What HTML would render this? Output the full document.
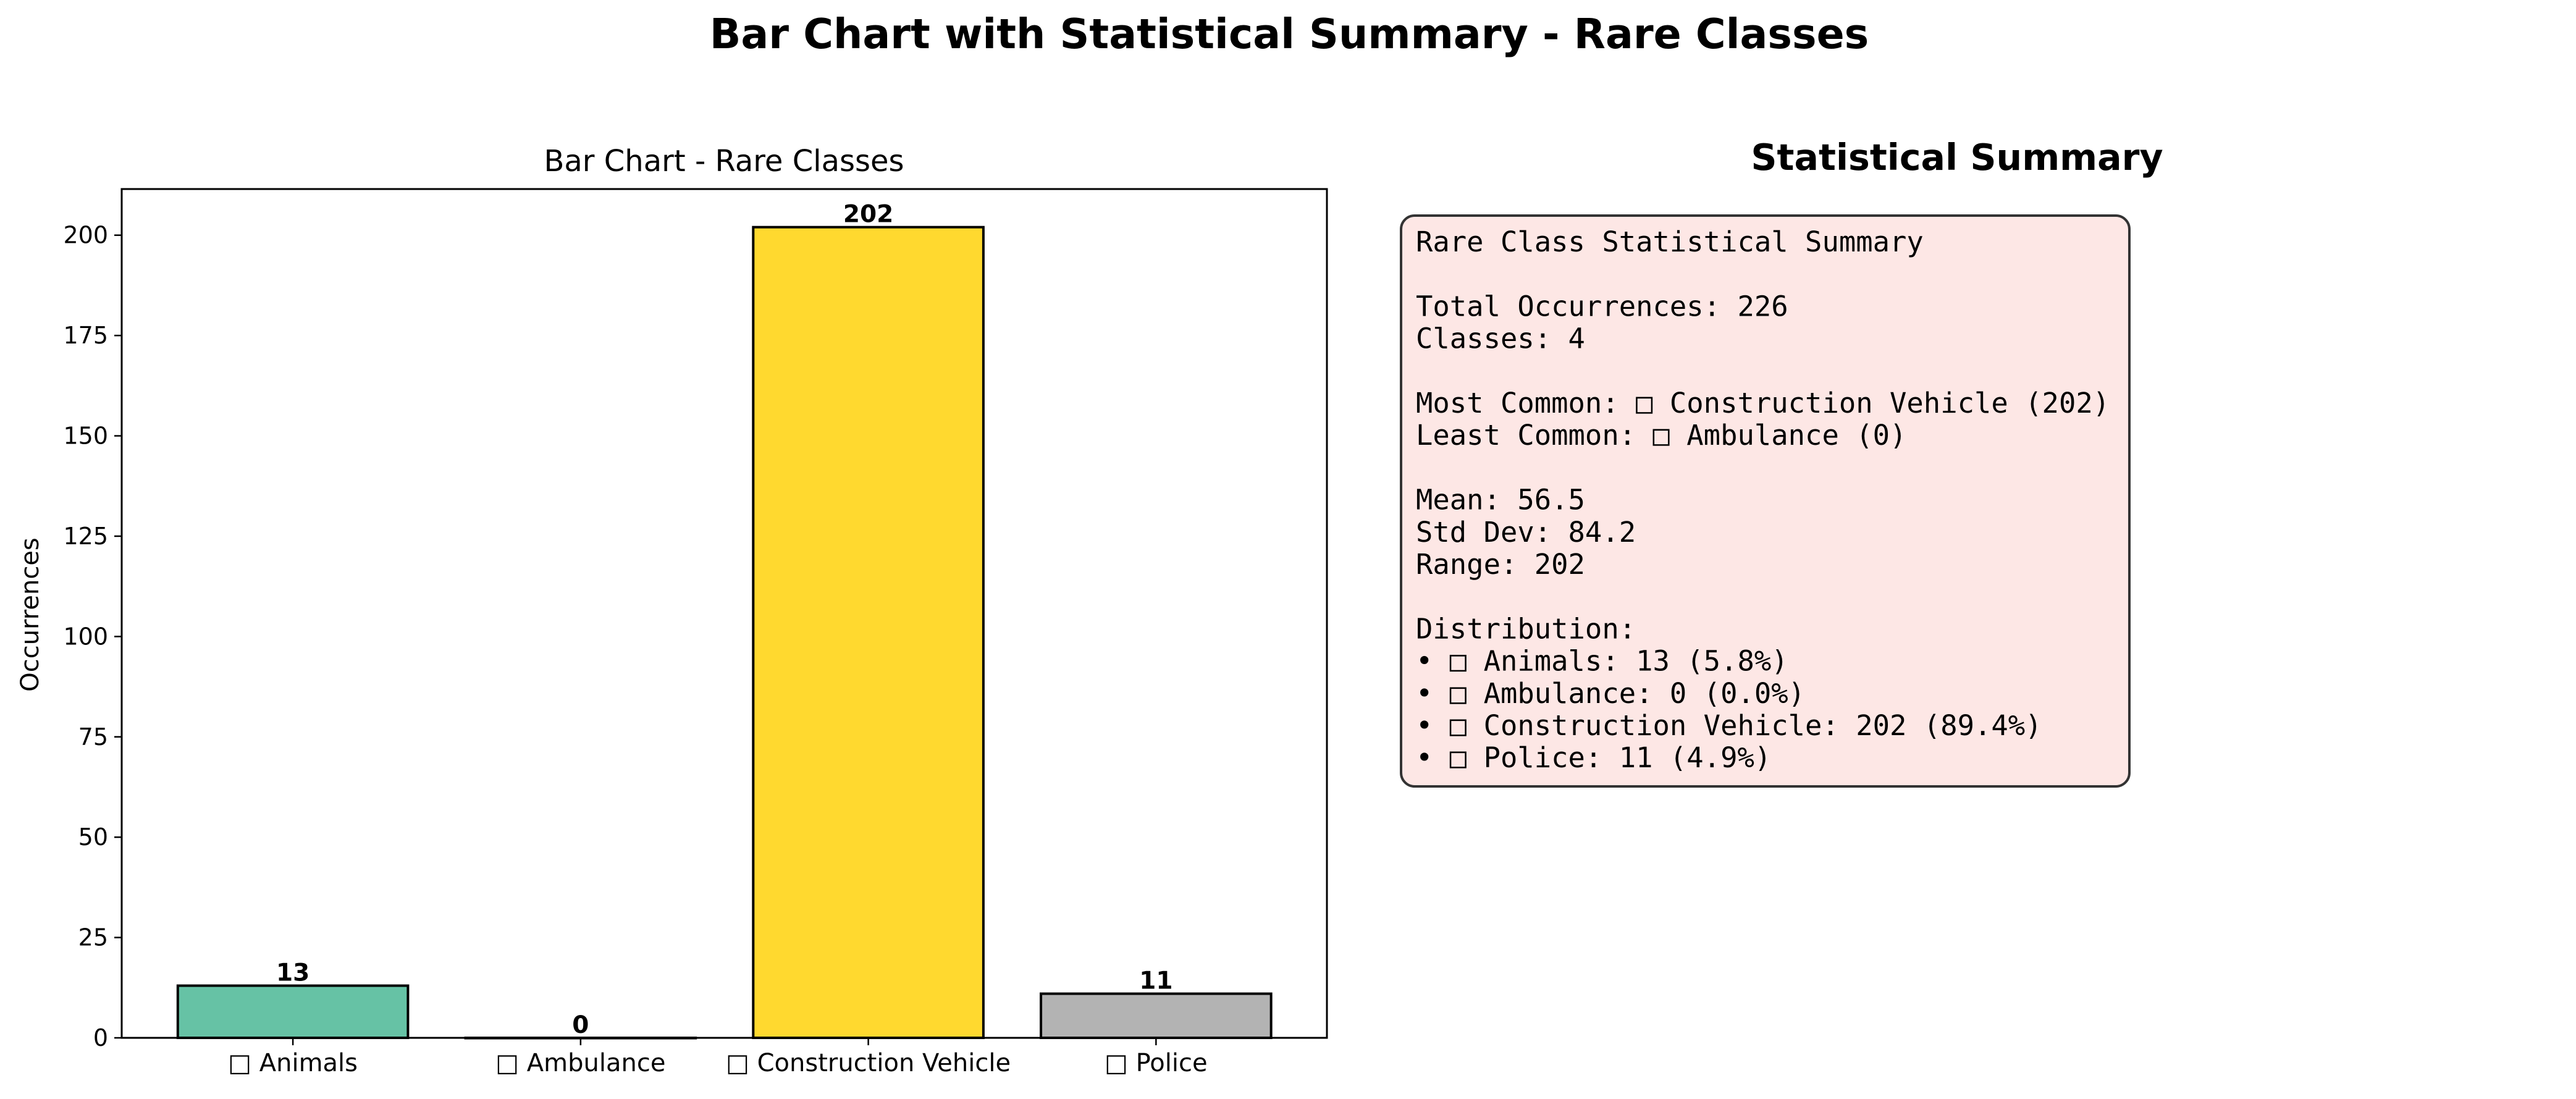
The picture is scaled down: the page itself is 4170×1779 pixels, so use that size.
<!DOCTYPE html>
<html><head><meta charset="utf-8"><style>
html,body{margin:0;padding:0;background:#fff;}
svg{display:block;}
text{font-family:"DejaVu Sans","Liberation Sans",sans-serif;}
.mono{font-family:"DejaVu Sans Mono","Liberation Mono",monospace;}
</style></head><body>
<svg id="fig" width="4170" height="1779" viewBox="0 0 4170 1779" xmlns="http://www.w3.org/2000/svg">
<text x="2087" y="78" text-anchor="middle" font-size="66.5" font-weight="bold">Bar Chart with Statistical Summary - Rare Classes</text>
<text x="1172" y="277" text-anchor="middle" font-size="48">Bar Chart - Rare Classes</text>
<text transform="translate(62,995) rotate(-90)" text-anchor="middle" font-size="40">Occurrences</text>
<g id="chart"></g>
<rect x="2268" y="349" width="1179" height="924" rx="22" fill="#fde7e5" stroke="#333" stroke-width="4"/>
<text x="3168" y="275" text-anchor="middle" font-size="58.5" font-weight="bold">Statistical Summary</text>
<g id="summary"></g>
</svg>
<script>
const categories = ["□ Animals","□ Ambulance","□ Construction Vehicle","□ Police"];
const values = [13, 0, 202, 11];
const colors = ["#66c2a5","#8da0cb","#ffd92f","#b3b3b3"];
const yTicks = [0,25,50,75,100,125,150,175,200];
const NS="http://www.w3.org/2000/svg";
const L=197,R=2148,T=306,B=1680,XMIN=-0.595,XMAX=3.594,YMAX=211.5;
const xs=v=>L+(v-XMIN)/(XMAX-XMIN)*(R-L);
const ys=v=>B-v/YMAX*(B-T);
const g=document.getElementById('chart');
function mk(tag,attrs,parent){const e=document.createElementNS(NS,tag);for(const k in attrs)e.setAttribute(k,attrs[k]);(parent||g).appendChild(e);return e;}
const bw=0.8;
categories.forEach((c,i)=>{
  const x0=xs(i-bw/2),x1=xs(i+bw/2),y=ys(values[i]);
  const r=mk('rect',{x:x0,y:y,width:x1-x0,height:Math.max(B-y,0.5),fill:colors[i],stroke:'#000','stroke-width':4});
  
  
  const t=mk('text',{x:xs(i),y:y-8,'text-anchor':'middle','font-size':39,'font-weight':'bold'});
  t.textContent=values[i];
  
  
  const tk=mk('line',{x1:xs(i),x2:xs(i),y1:B,y2:B+12,stroke:'#000','stroke-width':2.5});
  
  
  const tl=mk('text',{x:xs(i),y:B+54,'text-anchor':'middle','font-size':40});
  tl.textContent=c;
  
  
});
yTicks.forEach(v=>{
  const tk=mk('line',{x1:L-12,x2:L,y1:ys(v),y2:ys(v),stroke:'#000','stroke-width':2.5});
  
  
  const tl=mk('text',{x:L-22,y:ys(v)+13,'text-anchor':'end','font-size':38});
  tl.textContent=v;
  
  
});
const frame=mk('rect',{x:L,y:T,width:R-L,height:B-T,fill:'none',stroke:'#000','stroke-width':3});



const lines=["Rare Class Statistical Summary","","Total Occurrences: 226","Classes: 4","","Most Common: □ Construction Vehicle (202)","Least Common: □ Ambulance (0)","","Mean: 56.5","Std Dev: 84.2","Range: 202","","Distribution:","• □ Animals: 13 (5.8%)","• □ Ambulance: 0 (0.0%)","• □ Construction Vehicle: 202 (89.4%)","• □ Police: 11 (4.9%)"];
const sg=document.getElementById('summary');
lines.forEach((s,i)=>{
  if(!s)return;
  const t=mk('text',{x:2292,y:407+i*52.2,'font-size':45.5,class:'mono','xml:space':'preserve'},sg);
  t.textContent=s;
  
  
});
</script>
</body></html>
